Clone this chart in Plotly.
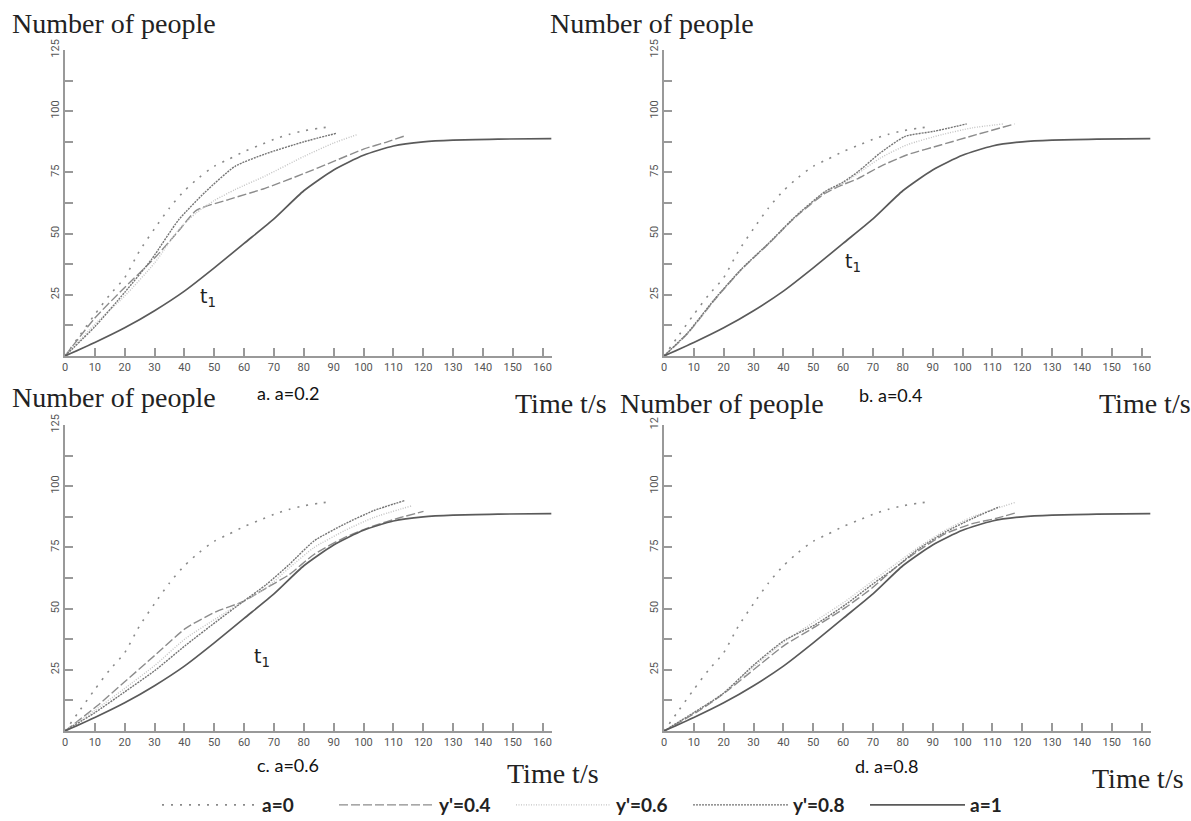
import plotly.graph_objects as go

# ---------------- data ----------------
X_TICKS = list(range(0, 161, 10))
Y_TICKS = [25, 50, 75, 100, 125]
Y_MINOR = [12.5, 37.5, 62.5, 87.5, 112.5]
Y_LABELS = ["25", "50", "75", "100", "125"]
Y_LABELS_D = ["25", "50", "75", "100", "12"]

SERIES = ["a=0", "y'=0.4", "y'=0.6", "y'=0.8", "a=1"]
PANELS = ["a. a=0.2", "b. a=0.4", "c. a=0.6", "d. a=0.8"]

# a=0 (same in every panel)
T_A0 = [0, 5, 10, 15, 20, 25, 30, 35, 40, 45, 50, 55, 60, 65, 70, 75, 80, 85, 88]
N_A0 = [0, 8.5, 17, 25, 32, 43, 52, 60.5, 67.5, 73, 77.5, 80.5, 83.5, 86, 88.5, 90.5, 92, 93, 93.5]

# a=1 (same in every panel)
T_A1 = [0, 10, 20, 30, 40, 50, 60, 70, 80, 90, 100, 110, 120, 130, 145, 163]
N_A1 = [0, 5.5, 11.5, 18.5, 26.5, 36, 46, 56, 67.5, 76, 82, 85.8, 87.5, 88.2, 88.6, 88.8]

# panel a (a=0.2)
A_T04 = [0, 10, 20, 30, 38, 44, 55, 67, 80, 90, 100, 108, 114]
A_N04 = [0, 15.5, 28, 40, 51, 59.5, 64, 68.5, 74.5, 79.5, 84.5, 87.5, 90]
A_T06 = [0, 10, 20, 30, 38, 44, 50, 57, 67, 80, 90, 98]
A_N06 = [0, 13, 24.5, 38, 51.5, 58.5, 63.5, 68, 73.5, 81.5, 87, 90.5]
A_T08 = [0, 10, 20, 29, 38, 47, 57, 67, 80, 91]
A_N08 = [0, 12, 26, 39.5, 55.5, 67, 77.5, 82.5, 87.5, 91]

# panel b (a=0.4)
B_T04 = [0, 8, 17, 26, 35, 44, 54, 60, 65, 72.4, 81.5, 93, 104.6, 117.5]
B_N04 = [0, 9.3, 23, 35.4, 45.8, 56.7, 66.5, 70, 72.5, 77.4, 82.2, 86.3, 90.4, 94.8]
B_T06 = [0, 8, 17, 26, 35, 44, 54, 60, 65, 72.4, 81.5, 93, 103.3, 113.6]
B_N06 = [0, 9.3, 23, 35.4, 45.8, 56.7, 67, 70.5, 74.6, 80.8, 86.3, 90.4, 93.2, 94.8]
B_T08 = [0, 8, 17, 26, 35, 44, 54, 60, 65, 72.4, 80.8, 90.5, 101.4]
B_N08 = [0, 9.6, 23.3, 35.6, 46, 57, 67.2, 71, 75.3, 82.9, 89.7, 91.8, 94.8]

# panel c (a=0.6)
C_T04 = [0, 10.8, 19.8, 30.1, 40.4, 50.7, 59.7, 67.4, 75.1, 83.4, 93.6, 103.4, 112.4, 120.1]
C_N04 = [0, 10.3, 19.9, 30.9, 41.9, 48.8, 52.9, 58.4, 63.9, 72.1, 79, 83.8, 87.2, 89.7]
C_T06 = [0, 10, 19.8, 30.1, 40.4, 50.7, 59.7, 67.4, 75.1, 83.4, 93.6, 103.4, 116.2]
C_N06 = [0, 8.5, 17.2, 26.8, 37.8, 46, 52.9, 58.4, 66.6, 74.9, 81.8, 87.2, 92]
C_T08 = [0, 10, 19.8, 30.1, 40.4, 50.7, 59.7, 67.4, 75.1, 83.4, 93.6, 103.4, 113.7]
C_N08 = [0, 7.5, 15.8, 24.7, 35, 44.7, 52.9, 59.8, 68, 77.6, 84.5, 90, 94.1]

# panel d (a=0.8)
D_T04 = [0, 10.7, 19.7, 30, 40.3, 50.6, 60.9, 69.9, 77.6, 85.3, 94.3, 103.3, 111.1, 118.1]
D_N04 = [0, 7.5, 15, 25, 35, 42.5, 50.5, 58.6, 66.8, 73.7, 80.6, 84.7, 86.8, 89.2]
D_T06 = [0, 10, 19.7, 30, 40.3, 50.6, 60.9, 69.9, 77.6, 85.3, 94.3, 103.3, 117.5]
D_N06 = [0, 7.5, 15.2, 26.2, 36.5, 44.8, 53.1, 61.3, 68.2, 75.1, 82, 87.5, 93.3]
D_T08 = [0, 10, 19.7, 30, 40.3, 50.6, 60.9, 69.9, 77.6, 85.3, 94.3, 103.3, 112.4]
D_N08 = [0, 7.5, 15.2, 26.9, 37, 43.4, 51.7, 60, 66.8, 74.4, 81.3, 86.8, 91.6]

# t1 label positions (data coords) for panels a, b, c
T1_X = [48, 63.4, 66]
T1_Y = [24, 38, 30]

# ---------------- styling ----------------
W, H = 1191, 821
STYLE = {
    "a=0": dict(color="#8a8a8a", width=1.6, dash="2px,7px"),
    "y'=0.4": dict(color="#8c8c8c", width=1.4, dash="9px,3px"),
    "y'=0.6": dict(color="#c4c4c4", width=1.4, dash="1px,1.5px"),
    "y'=0.8": dict(color="#747474", width=1.4, dash="2px,1px"),
    "a=1": dict(color="#5a5a5a", width=1.7, dash="solid"),
}

PX_PER_T = 2.985
XMAX = 163
def xdom(left):
    return [left / W, (left + XMAX * PX_PER_T) / W]
def ydom(bottom, top):
    return [1 - bottom / H, 1 - top / H]

DOMAINS = [
    (xdom(65), ydom(356, 50)),
    (xdom(664), ydom(356, 50)),
    (xdom(65), ydom(731, 425)),
    (xdom(664), ydom(731, 425)),
]

panel_data = [
    (A_T04, A_N04, A_T06, A_N06, A_T08, A_N08),
    (B_T04, B_N04, B_T06, B_N06, B_T08, B_N08),
    (C_T04, C_N04, C_T06, C_N06, C_T08, C_N08),
    (D_T04, D_N04, D_T06, D_N06, D_T08, D_N08),
]

fig = go.Figure()
for i, (t04, n04, t06, n06, t08, n08) in enumerate(panel_data):
    xa = "x" if i == 0 else f"x{i+1}"
    ya = "y" if i == 0 else f"y{i+1}"
    curves = [
        ("a=0", T_A0, N_A0),
        ("y'=0.4", t04, n04),
        ("y'=0.6", t06, n06),
        ("y'=0.8", t08, n08),
        ("a=1", T_A1, N_A1),
    ]
    for name, t, n in curves:
        fig.add_trace(go.Scatter(
            x=t, y=n, mode="lines", name=name, legendgroup=name,
            showlegend=(i == 0), line=dict(shape="spline", smoothing=0.6, **STYLE[name]),
            xaxis=xa, yaxis=ya, hoverinfo="skip"))

tick_font = dict(family="Liberation Sans Narrow, Roboto, sans-serif", size=11, color="#555")
layout = dict(
    width=W, height=H, margin=dict(l=0, r=0, t=0, b=0, autoexpand=False),
    paper_bgcolor="white", plot_bgcolor="white",
    legend=dict(orientation="h", x=157 / W, xanchor="left", y=1 - 805 / H, yanchor="middle",
                font=dict(family="Lato, sans-serif", size=19, color="#222", weight="bold"),
                itemwidth=95, entrywidth=67, entrywidthmode="pixels",
                traceorder="normal", bgcolor="rgba(0,0,0,0)"),
    showlegend=True,
)
for i, (xd, yd) in enumerate(DOMAINS):
    sx = "" if i == 0 else str(i + 1)
    layout["xaxis" + sx] = dict(
        domain=xd, range=[0, XMAX], anchor="y" + sx,
        tickvals=X_TICKS, ticktext=[str(v) for v in X_TICKS],
        ticks="inside", ticklen=8, tickwidth=1.5, tickcolor="#999",
        showline=True, linecolor="#999", linewidth=2,
        showgrid=False, zeroline=False, tickfont=tick_font, ticklabelstandoff=0)
    layout["yaxis" + sx] = dict(
        domain=yd, range=[0, 125], anchor="x" + sx,
        tickvals=Y_TICKS, ticktext=(Y_LABELS_D if i == 3 else Y_LABELS),
        ticks="inside", ticklen=8, tickwidth=1.5, tickcolor="#999", tickangle=-90,
        minor=dict(tickvals=Y_MINOR, ticks="inside", ticklen=8, tickwidth=1.5, tickcolor="#999"),
        showline=True, linecolor="#999", linewidth=2,
        showgrid=False, zeroline=False, tickfont=tick_font)
fig.update_layout(**layout)

serif = dict(family="Liberation Serif, Times New Roman, serif", size=28, color="#222")
capf = dict(family="Lato, sans-serif", size=18, color="#111")
texts = [
    ("Number of people", 10, 23, serif),
    ("Number of people", 548, 23, serif),
    ("Number of people", 10, 397, serif),
    ("Number of people", 618, 403, serif),
    ("Time t/s", 513, 403, serif),
    ("Time t/s", 1097, 403, serif),
    ("Time t/s", 505, 773, serif),
    ("Time t/s", 1090, 778, serif),
    (PANELS[0], 255, 393, capf),
    (PANELS[1], 857, 395, capf),
    (PANELS[2], 255, 765, capf),
    (PANELS[3], 853, 766, capf),
]
for txt, px, py, f in texts:
    fig.add_annotation(text=txt, x=px / W, y=1 - py / H, xref="paper", yref="paper",
                       xanchor="left", yanchor="middle", showarrow=False, font=f)

for i in range(3):
    sx = "" if i == 0 else str(i + 1)
    fig.add_annotation(text="t<sub>1</sub>", x=T1_X[i], y=T1_Y[i], xref="x" + sx, yref="y" + sx,
                       showarrow=False, font=dict(family="DejaVu Sans, sans-serif", size=19, color="#222"))

fig.write_html("out.html", config={"displayModeBar": False},
               post_script="document.body.style.margin='0';document.body.style.overflow='hidden';")
